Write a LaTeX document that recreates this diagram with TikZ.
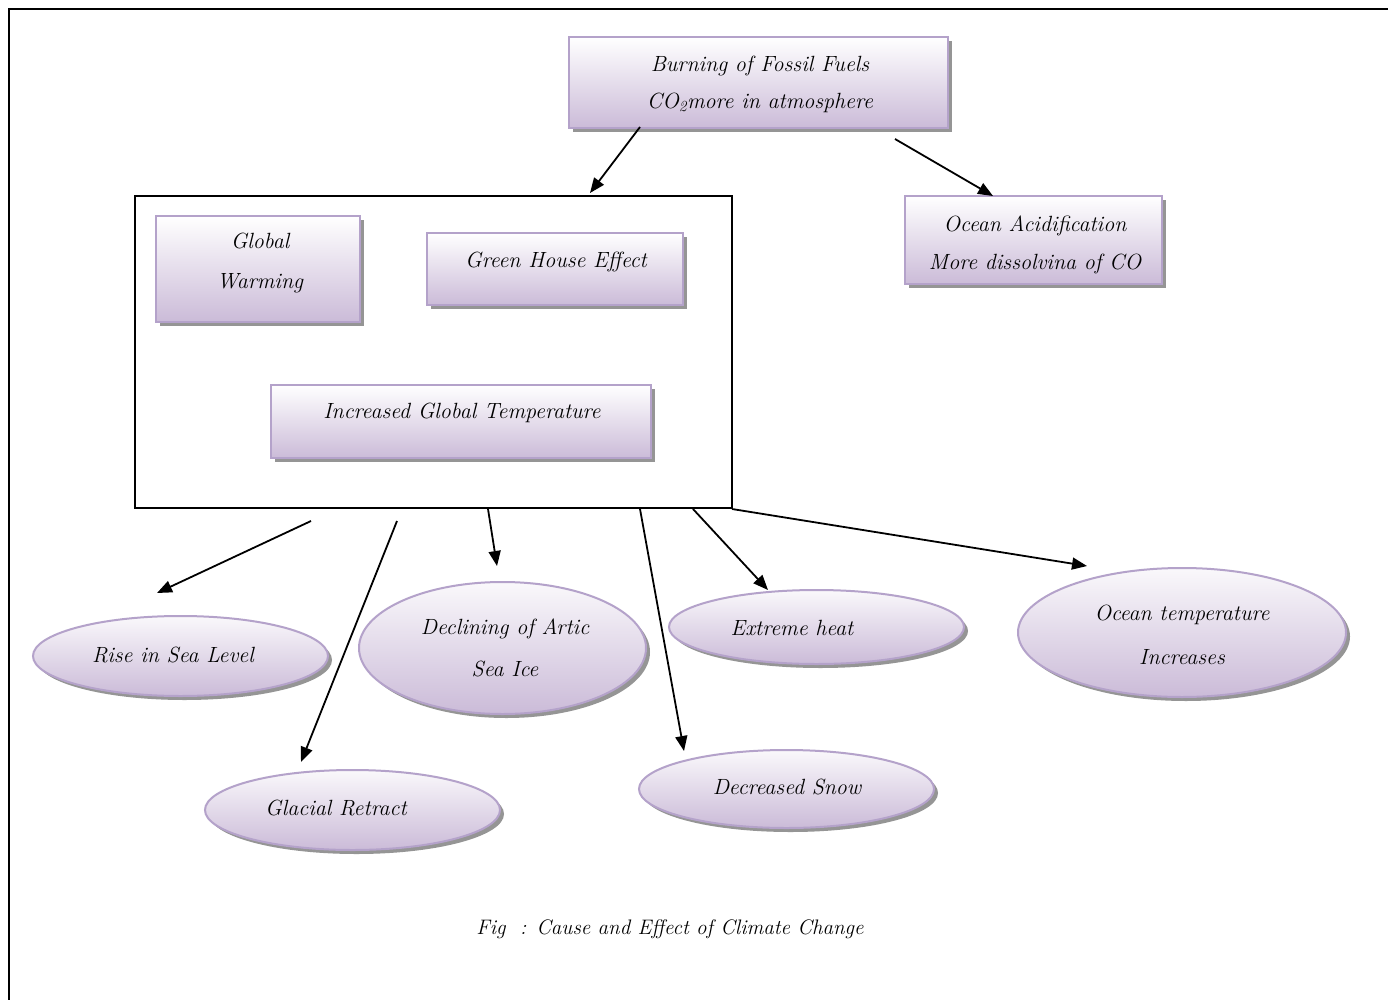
\documentclass[tikz,border=0pt]{standalone}
\usetikzlibrary{shapes.geometric,arrows.meta,shadows}
\definecolor{lavb}{HTML}{B4A2CA}
\definecolor{lavf}{HTML}{CBBBD8}
\definecolor{shd}{HTML}{959595}
\tikzset{
  pbox/.style={rectangle, draw=lavb, line width=2.2pt, top color=white, bottom color=lavf,
    inner sep=0pt, drop shadow={shadow xshift=4pt, shadow yshift=-4pt, fill=shd, opacity=1}},
  pell/.style={ellipse, draw=lavb, line width=2pt, top color=white!90!lavf, bottom color=lavf,
    inner sep=0pt, drop shadow={shadow xshift=4pt, shadow yshift=-4pt, fill=shd, opacity=1}},
  txt/.style={align=center, font=\fontsize{22}{39}\selectfont\itshape, inner sep=0pt},
  arr/.style={line width=1.8pt, -{Triangle[length=15pt,width=12pt]}},
}
\begin{document}
\begin{tikzpicture}[x=1pt,y=-1pt]
\useasboundingbox (0,0) rectangle (1388,1000);
\fill[white] (0,0) rectangle (1388,1000);
% outer frame
\draw[line width=2pt] (9,1000) -- (9,9) -- (1388,9);
% inner group box
\node[draw, line width=1.8pt, minimum width=597pt, minimum height=312pt, inner sep=0pt] (grp) at (433.5,352) {};
% boxes
\node[pbox, minimum width=379pt, minimum height=91pt] (burn) at (758.5,82.5) {};
\node[txt, font=\fontsize{22}{37}\selectfont\itshape] (burnt) at (760,84) {Burning of Fossil Fuels\\CO\textsubscript{2}more in atmosphere};
\node[pbox, minimum width=257pt, minimum height=88pt] (acid) at (1033.5,240) {};
\node[txt, font=\fontsize{22}{38}\selectfont\itshape] (acidt) at (1035,245) {Ocean Acidification\\More dissolvina of CO};
\node[pbox, minimum width=204pt, minimum height=106pt] (gw) at (258,269) {};
\node[txt, font=\fontsize{22}{40}\selectfont\itshape] (gwt) at (260,263) {Global\\Warming};
\node[pbox, minimum width=256pt, minimum height=72pt] (ghe) at (555,269) {};
\node[txt] (ghet) at (556,262) {Green House Effect};
\node[pbox, minimum width=380pt, minimum height=73pt] (igt) at (461,421.5) {};
\node[txt] (igtt) at (462,413) {Increased Global Temperature};
% ellipses
\node[pell, minimum width=295pt, minimum height=80pt] (sea) at (180.5,656) {};
\node[txt] (seat) at (173,655) {Rise in Sea Level};
\node[pell, minimum width=287pt, minimum height=132pt] (ice) at (502.5,648) {};
\node[txt, font=\fontsize{22}{42}\selectfont\itshape] (icet) at (505,648) {Declining of Artic\\Sea Ice};
\node[pell, minimum width=295pt, minimum height=74pt] (heat) at (816.5,627) {};
\node[txt] (heatt) at (792,628) {Extreme heat};
\node[pell, minimum width=328pt, minimum height=129pt] (otemp) at (1182,632.5) {};
\node[txt, font=\fontsize{22}{44}\selectfont\itshape] (otempt) at (1182,635) {Ocean temperature\\Increases};
\node[pell, minimum width=295pt, minimum height=80pt] (glac) at (352.5,810) {};
\node[txt] (glact) at (336,808) {Glacial Retract};
\node[pell, minimum width=295pt, minimum height=78pt] (snow) at (786.5,789) {};
\node[txt] (snowt) at (787,787) {Decreased Snow};
% caption
\node[txt, font=\fontsize{21}{24}\selectfont\itshape] (cap) at (670,929) {Fig\ \ : Cause and Effect of Climate Change};
% arrow end points
\coordinate (b1) at (640,127);
\coordinate (e1) at (590,193);
\coordinate (b2) at (895,139);
\coordinate (e2) at (993,196);
\coordinate (s1) at (311,521);
\coordinate (t1) at (157,593);
\coordinate (s2) at (397,521);
\coordinate (t2) at (301,762);
\coordinate (s3) at (488,509);
\coordinate (t3) at (497,566);
\coordinate (s4) at (640,509);
\coordinate (t4) at (684,751);
\coordinate (s5) at (693,509);
\coordinate (t5) at (768,590);
\coordinate (s6) at (732,509);
\coordinate (t6) at (1087,566);
\draw[arr] (b1) -- (e1);
\draw[arr] (b2) -- (e2);
\draw[arr] (s1) -- (t1);
\draw[arr] (s2) -- (t2);
\draw[arr] (s3) -- (t3);
\draw[arr] (s4) -- (t4);
\draw[arr] (s5) -- (t5);
\draw[arr] (s6) -- (t6);
\end{tikzpicture}
\end{document}
